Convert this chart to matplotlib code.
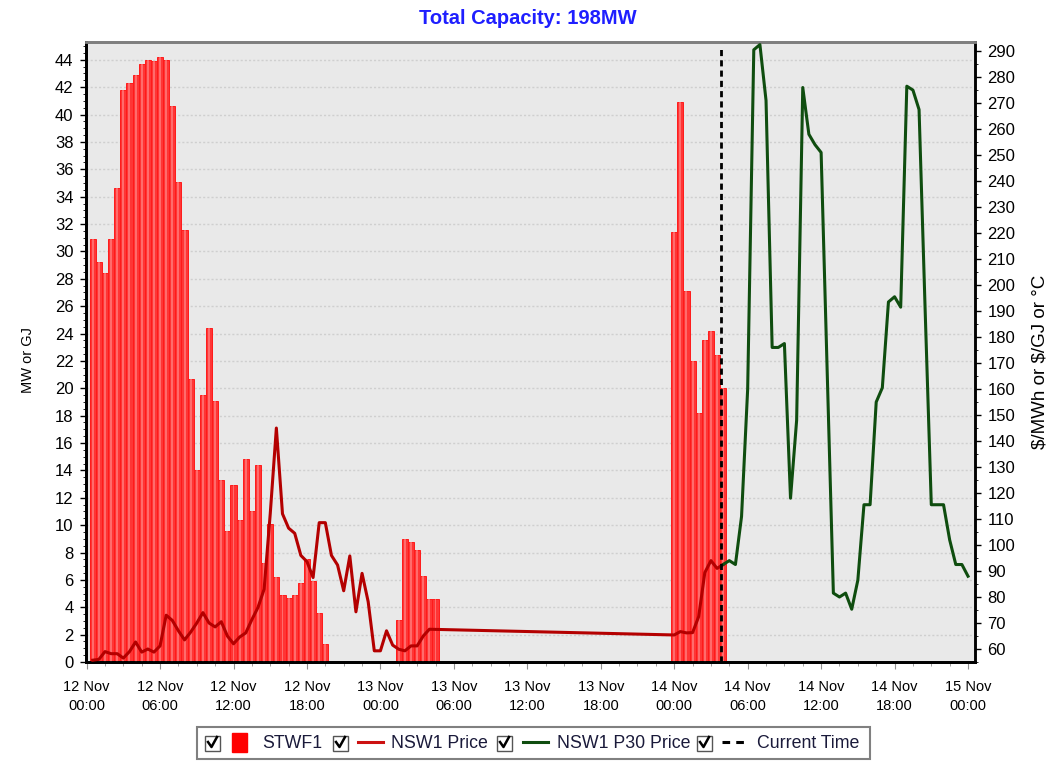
import matplotlib
matplotlib.use('Agg')
import matplotlib.pyplot as plt
from matplotlib.patches import Rectangle
from matplotlib.lines import Line2D
from matplotlib.ticker import MultipleLocator

plt.rcParams['font.family'] = ['Liberation Sans', 'DejaVu Sans']

# STWF1 output (MW), half-hourly, hours after 12 Nov 00:00
stwf1_hours = [0.5 * k for k in range(1, 40)] + [25.5, 26.0, 26.5, 27.0, 27.5, 28.0, 28.5] \
    + [48.0, 48.5, 49.0, 49.5, 50.0, 50.5, 51.0, 51.5, 52.0]
stwf1_mw = [30.9, 29.2, 28.4, 30.9, 34.6, 41.8, 42.3, 42.9, 43.7, 44.0,
            43.9, 44.2, 44.0, 40.6, 35.1, 31.6, 20.7, 14.0, 19.5, 24.4,
            19.1, 13.3, 9.6, 12.9, 10.4, 14.8, 11.0, 14.4, 7.2, 10.1,
            6.2, 4.9, 4.7, 4.9, 5.8, 7.5, 5.9, 3.6, 1.3,
            3.1, 9.0, 8.8, 8.2, 6.3, 4.6, 4.6,
            31.4, 40.9, 27.1, 22.0, 18.2, 23.5, 24.2, 22.4, 20.0]

# NSW1 price ($/MWh)
price_hours = [0.5, 1.0, 1.5, 2.0, 2.5, 3.0, 3.5, 4.0, 4.5, 5.0,
               5.5, 6.0, 6.5, 7.0, 7.5, 8.0, 8.5, 9.0, 9.5, 10.0,
               10.5, 11.0, 11.5, 12.0, 12.5, 13.0, 13.5, 14.0, 14.5, 15.0,
               15.5, 16.0, 16.5, 17.0, 17.5, 18.0, 18.5, 19.0, 19.5, 20.0,
               20.5, 21.0, 21.5, 22.0, 22.5, 23.0, 23.5, 24.0, 24.5, 25.0,
               25.5, 26.0, 26.5, 27.0, 27.5, 28.0,
               48.0, 48.5, 49.0, 49.5, 50.0, 50.5, 51.0, 51.5, 52.0]
price = [55.7, 56.0, 59.0, 58.2, 58.2, 56.5, 59.0, 62.7, 58.8, 60.0,
         58.8, 61.2, 73.0, 71.0, 67.0, 63.5, 66.5, 70.0, 74.0, 70.0,
         68.5, 70.5, 65.0, 62.0, 64.6, 66.2, 71.3, 76.0, 83.0, 112.0,
         145.0, 112.0, 106.5, 104.5, 96.0, 93.6, 87.5, 108.6, 108.6, 96.0,
         92.3, 82.4, 95.8, 74.3, 89.1, 78.2, 59.3, 59.3, 67.0, 61.5,
         59.9, 59.3, 61.2, 61.2, 65.0, 67.6,
         65.4, 66.7, 66.2, 66.3, 72.5, 89.4, 94.0, 91.0, 92.5]

# NSW1 P30 forecast price ($/MWh)
p30_hours = [52.0 + 0.5 * k for k in range(41)]
p30 = [92.5, 94.0, 92.5, 111.0, 160.0, 290.5, 292.5, 271.0, 176.0, 176.0,
       177.5, 118.0, 148.0, 276.0, 258.0, 254.0, 251.0, 166.0, 81.5, 80.0,
       81.5, 75.3, 86.5, 115.5, 115.5, 155.0, 160.5, 193.5, 195.5, 191.5,
       276.5, 275.0, 267.5, 190.0, 115.5, 115.5, 115.5, 102.0, 92.5, 92.5,
       88.0]

current_time = 51.83

x_ticks = [0, 6, 12, 18, 24, 30, 36, 42, 48, 54, 60, 66, 72]
x_tick_labels = ['12 Nov\n00:00', '12 Nov\n06:00', '12 Nov\n12:00', '12 Nov\n18:00',
                 '13 Nov\n00:00', '13 Nov\n06:00', '13 Nov\n12:00', '13 Nov\n18:00',
                 '14 Nov\n00:00', '14 Nov\n06:00', '14 Nov\n12:00', '14 Nov\n18:00',
                 '15 Nov\n00:00']

W, H = 1055, 761
fig = plt.figure(figsize=(W / 100, H / 100), dpi=100)


def fx(x):
    return x / W


def fy(y):
    return 1 - y / H


ax = fig.add_axes([fx(86), fy(662), fx(975 - 86), (662 - 42) / H])
ax.set_facecolor('#e9e9e9')
ax.set_xlim(-0.05, 72.57)
ax.set_ylim(0, 45.3)

ax.bar(stwf1_hours, stwf1_mw, width=0.5, color='#ff3535', edgecolor='#ff1a1a',
       linewidth=0.7, zorder=2)
ax.bar(stwf1_hours, stwf1_mw, width=0.16, color='#ff9a9a', alpha=0.55,
       linewidth=0, zorder=3)

ax.set_yticks(range(0, 45, 2))
ax.yaxis.set_minor_locator(MultipleLocator(0.5))
ax.set_xticks(x_ticks)
ax.set_xticklabels(x_tick_labels, linespacing=1.45)
ax.xaxis.set_minor_locator(MultipleLocator(1.5))
ax.grid(axis='y', color='#cfcfcf', linestyle=(0, (1.5, 1.5)), linewidth=1)
ax.set_axisbelow(True)
ax.tick_params(axis='y', labelsize=12, length=4, width=1, pad=5)
ax.tick_params(axis='y', which='minor', length=2)
ax.tick_params(axis='x', labelsize=10.5, length=5, color='#909090', pad=8)
ax.tick_params(axis='x', which='minor', length=3, color='#909090')

ax2 = ax.twinx()
ax2.set_ylim(55, 293.5)
ax2.plot(price_hours, price, color='#b40000', lw=2.2, zorder=5)
ax2.plot(p30_hours, p30, color='#0f4d0f', lw=2.2, zorder=5)
ax2.axvline(current_time, ymax=0.99, color='black', lw=2, linestyle=(0, (2.2, 1.5)), zorder=6)
ax2.set_yticks(range(60, 291, 10))
ax2.yaxis.set_minor_locator(MultipleLocator(5))
ax2.tick_params(axis='y', labelsize=12, length=4, width=1, pad=5)
ax2.tick_params(axis='y', which='minor', length=2)

for a in (ax, ax2):
    a.spines['left'].set_linewidth(2)
    a.spines['bottom'].set_linewidth(2)
    a.spines['top'].set_color('#7f7f7f')
    a.spines['top'].set_linewidth(2)
    a.spines['right'].set_linewidth(1.8)

fig.text(0.5, fy(18), 'Total Capacity: 198MW', color='#1f1fff', fontsize=14.5,
         fontweight='bold', ha='center', va='center')
fig.text(fx(28), fy(360), 'MW or GJ', rotation=90, fontsize=10.5, ha='center', va='center')
fig.text(fx(1040), fy(362), r'\$/MWh or \$/GJ or °C', rotation=90, fontsize=13.5,
         ha='center', va='center')

# legend box drawn by hand (checkbox + symbol + name)
fig.patches.append(Rectangle((fx(197), fy(759)), fx(870 - 197), (759 - 727) / H,
                             transform=fig.transFigure, facecolor='white',
                             edgecolor='#808080', linewidth=1.5))


def checkbox(x0):
    fig.patches.append(Rectangle((fx(x0), fy(751)), fx(15), 15 / H, transform=fig.transFigure,
                                 facecolor='white', edgecolor='#555555', linewidth=1))
    fig.lines.append(Line2D([fx(x0 + 3), fx(x0 + 6.5), fx(x0 + 12)],
                            [fy(742), fy(747), fy(737)], transform=fig.transFigure,
                            color='black', lw=1.8))


legend_names = ['STWF1', 'NSW1 Price', 'NSW1 P30 Price', 'Current Time']
for bx in (205, 333, 497, 697):
    checkbox(bx)
fig.patches.append(Rectangle((fx(232), fy(752)), fx(15), 19 / H, transform=fig.transFigure,
                             facecolor='#ff0000', edgecolor='#ff0000'))
fig.lines.append(Line2D([fx(358), fx(383)], [fy(742), fy(742)], transform=fig.transFigure,
                        color='#cc1111', lw=2.2))
fig.lines.append(Line2D([fx(523), fx(548)], [fy(742), fy(742)], transform=fig.transFigure,
                        color='#0f4d0f', lw=2.2))
fig.lines.append(Line2D([fx(722), fx(746)], [fy(742), fy(742)], transform=fig.transFigure,
                        color='black', lw=2.2, linestyle=(0, (2.5, 2))))
for tx, name in zip((262, 391, 557, 757), legend_names):
    fig.text(fx(tx), fy(743), name, fontsize=12.8, color='#1a1a3a', ha='left', va='center')

fig.savefig('out.png', dpi=100)
